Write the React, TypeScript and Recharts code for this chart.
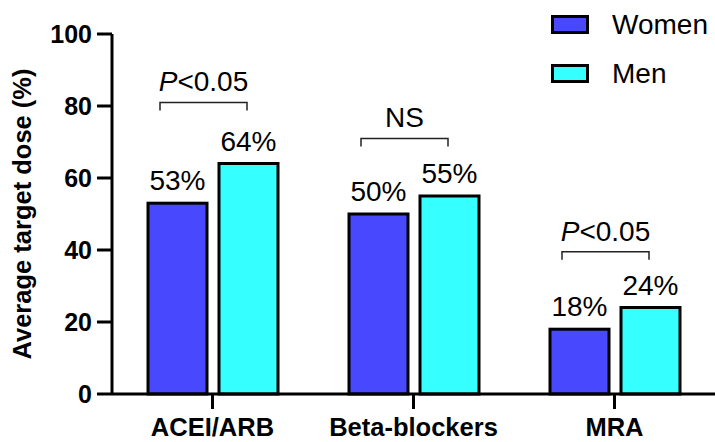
import { BarChart, Bar, XAxis, YAxis, Legend, LabelList } from 'recharts';

// Average target dose by drug class, women vs men, with significance brackets.

const categories = ['ACEI/ARB', 'Beta-blockers', 'MRA'];
const womenValues = [53, 50, 18];
const menValues = [64, 55, 24];
const bracketLevels = [81, 71, 39.5];
const bracketNotes = ['P<0.05', 'NS', 'P<0.05'];
const yTicks = [0, 20, 40, 60, 80, 100];

const WOMEN = '#4848FF';
const MEN = '#36FFFF';
const FONT = '"Liberation Sans", Arial, Helvetica, sans-serif';
const BAR_SIZE = 59;
const BAR_GAP = 12;

const data = categories.map((name, i) => ({
  name,
  women: womenValues[i],
  men: menValues[i],
  level: bracketLevels[i],
  note: bracketNotes[i],
}));

// Women bar also carries the bracket + p-value text for its category group.
function WomenShape(props: any) {
  const { x, y, width, height, payload } = props;
  const base = y + height;
  const perUnit = height / payload.women;
  const top = base - payload.level * perUnit;
  const center = x + width + BAR_GAP / 2;
  const x1 = center - 53;
  const x2 = center + 34;
  const note: string = payload.note;
  const italicP = note.startsWith('P');
  return (
    <g>
      <rect x={x} y={y} width={width} height={height} fill={WOMEN} stroke="#000" strokeWidth={3} />
      <path
        d={`M${x1},${top + 8}V${top}H${x2}V${top + 8}`}
        fill="none"
        stroke="#222"
        strokeWidth={1.5}
      />
      <text
        x={(x1 + x2) / 2}
        y={top - 11}
        textAnchor="middle"
        fontSize={28}
        fontFamily={FONT}
        fill="#000"
      >
        {italicP ? (
          <>
            <tspan fontStyle="italic">P</tspan>
            <tspan>{note.slice(1)}</tspan>
          </>
        ) : (
          note
        )}
      </text>
    </g>
  );
}

const legendItems = [
  { label: 'Women', color: WOMEN },
  { label: 'Men', color: MEN },
];

function LegendBox() {
  return (
    <div style={{ fontFamily: FONT, fontSize: 28, color: '#000' }}>
      {legendItems.map((item) => (
        <div key={item.label} style={{ display: 'flex', alignItems: 'center', height: 49 }}>
          <span
            style={{
              display: 'inline-block',
              width: 38,
              height: 19,
              boxSizing: 'border-box',
              border: '3px solid #000',
              background: item.color,
              marginRight: 23,
            }}
          />
          <span>{item.label}</span>
        </div>
      ))}
    </div>
  );
}

const YTitle = () => (
  <text
    x={22}
    y={214}
    transform="rotate(-90, 22, 214)"
    textAnchor="middle"
    dominantBaseline="central"
    fontSize={25.5}
    fontWeight="bold"
    fontFamily={FONT}
    fill="#000"
  >
    Average target dose (%)
  </text>
);

export default function App() {
  return (
    <div style={{ position: 'absolute', left: 0, top: 0, width: 715, height: 442, background: '#fff' }}>
      <BarChart
        width={715}
        height={442}
        data={data}
        margin={{ top: 34, right: 0, bottom: 0, left: 0 }}
        barSize={BAR_SIZE}
        barGap={BAR_GAP}
      >
        <XAxis
          dataKey="name"
          height={48}
          axisLine={{ stroke: '#000', strokeWidth: 3 }}
          tickLine={{ stroke: '#000', strokeWidth: 3 }}
          tickSize={15}
          tickMargin={9}
          tick={{ fill: '#000', fontSize: 25.5, fontWeight: 'bold', fontFamily: FONT }}
          interval={0}
        />
        <YAxis
          width={112}
          domain={[0, 100]}
          ticks={yTicks}
          axisLine={{ stroke: '#000', strokeWidth: 3 }}
          tickLine={{ stroke: '#000', strokeWidth: 3 }}
          tickSize={15}
          tickMargin={5}
          tick={{ fill: '#000', fontSize: 25, fontWeight: 'bold', fontFamily: FONT }}
          label={<YTitle />}
        />
        <Legend
          layout="vertical"
          align="center"
          verticalAlign="middle"
          content={<LegendBox />}
          wrapperStyle={{ top: 0, left: 551, width: 170 }}
        />
        <Bar dataKey="women" name="Women" fill={WOMEN} shape={<WomenShape />} isAnimationActive={false}>
          <LabelList
            dataKey="women"
            position="top"
            offset={13}
            formatter={(v: any) => `${v}%`}
            style={{ fontSize: 28, fontFamily: FONT, fill: '#000' }}
          />
        </Bar>
        <Bar dataKey="men" name="Men" fill={MEN} stroke="#000" strokeWidth={3} isAnimationActive={false}>
          <LabelList
            dataKey="men"
            position="top"
            offset={13}
            formatter={(v: any) => `${v}%`}
            style={{ fontSize: 28, fontFamily: FONT, fill: '#000' }}
          />
        </Bar>
      </BarChart>
    </div>
  );
}
